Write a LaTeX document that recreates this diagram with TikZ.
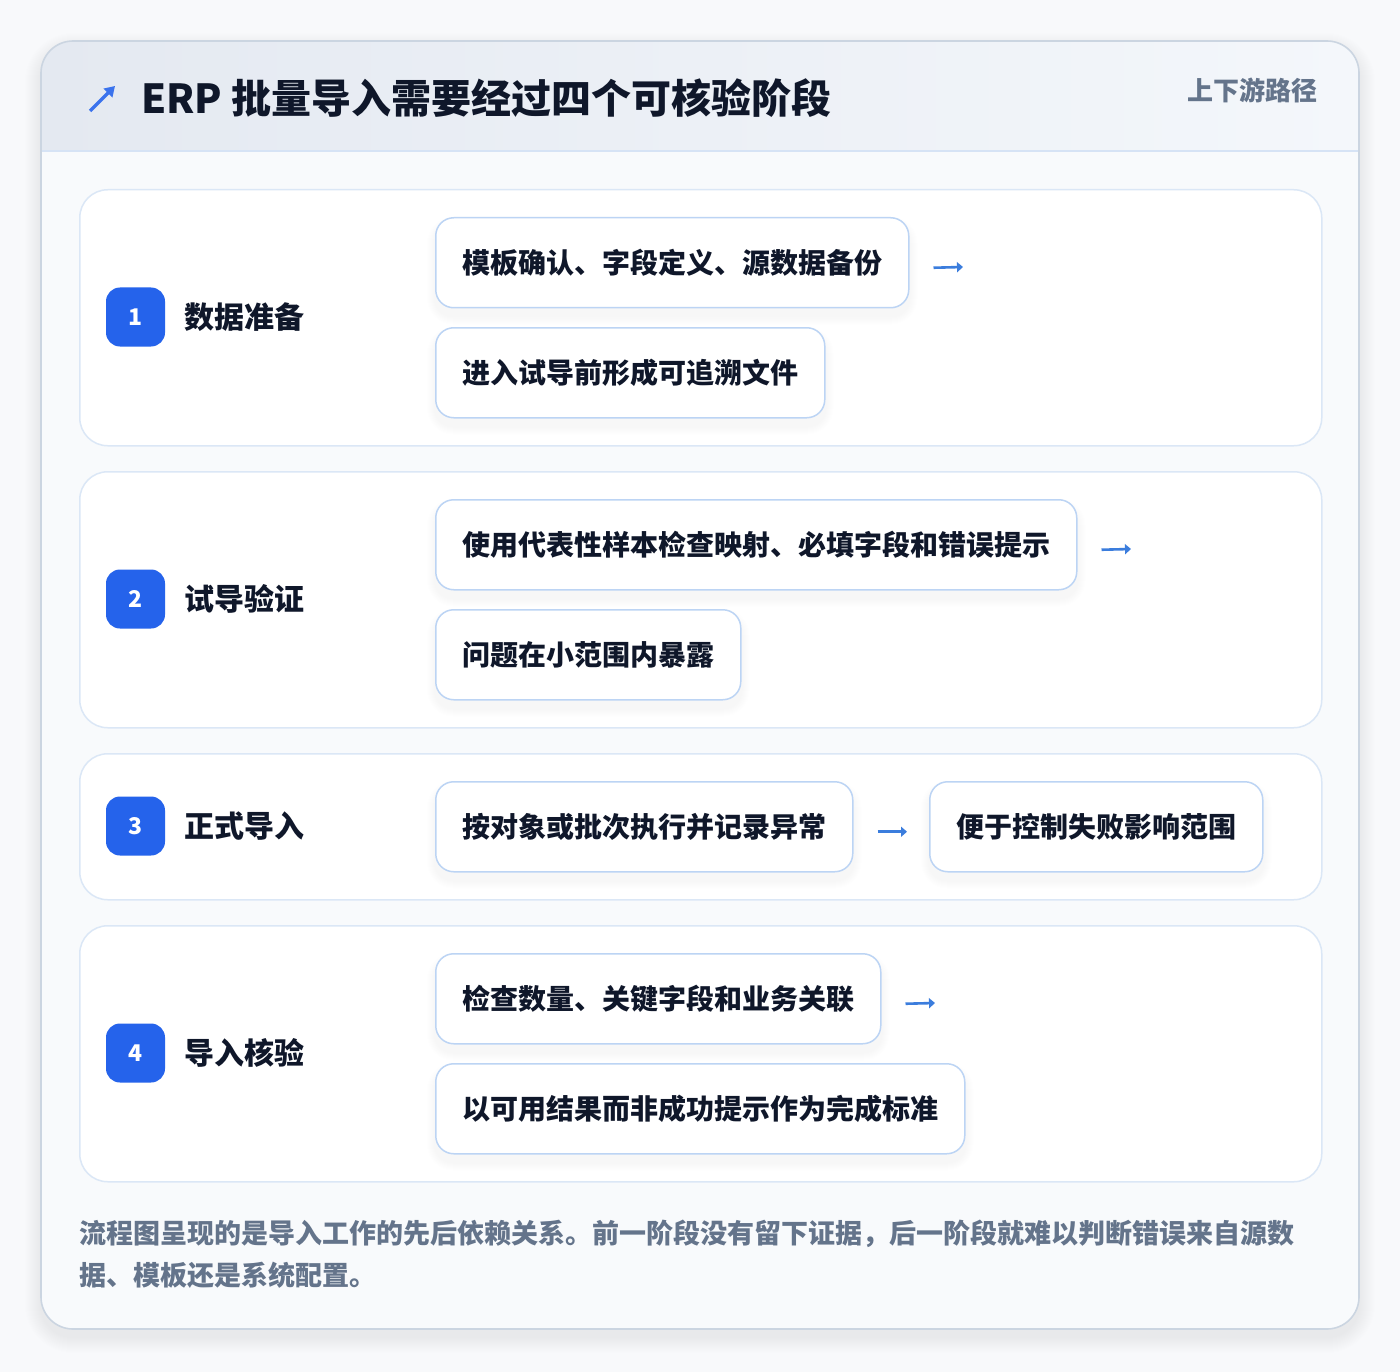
\documentclass[tikz,border=0pt]{standalone}
\usepackage{fontspec}
\setmainfont{Noto Sans CJK SC}
\usetikzlibrary{arrows.meta,calc}
\definecolor{pagebg}{HTML}{F8F9FB}
\definecolor{cardbody}{HTML}{F8FAFC}
\definecolor{hdrL}{HTML}{E4E9F1}
\definecolor{hdrR}{HTML}{F4F7FB}
\definecolor{cardborder}{HTML}{CBD5E1}
\definecolor{hdrline}{HTML}{D6E3F5}
\definecolor{panelborder}{HTML}{DBE7F6}
\definecolor{boxborder}{HTML}{BCD4F4}
\definecolor{badgeblue}{HTML}{2563EB}
\definecolor{textdark}{HTML}{0F172A}
\definecolor{muted}{HTML}{64748B}
\definecolor{arrowblue}{HTML}{3B7DDD}
\pgfdeclarelayer{bgl}
\pgfdeclarelayer{shd}
\pgfsetlayers{bgl,shd,main}
\tikzset{
  panelbox/.style={draw=panelborder, line width=1.5pt, fill=white, rounded corners=28pt, anchor=north west, minimum width=1242pt},
  stepbox/.style={draw=boxborder, line width=1.5pt, fill=white, rounded corners=18pt, anchor=north west, minimum height=90pt, inner xsep=26.5pt, text=textdark, font=\fontsize{28}{34}\selectfont\bfseries},
  badge/.style={fill=badgeblue, rounded corners=14pt, minimum size=59pt, inner sep=0pt, text=white, font=\fontsize{23}{26}\selectfont\bfseries},
  stagelabel/.style={anchor=west, text=textdark, font=\fontsize{30}{36}\selectfont\bfseries, inner sep=0pt},
  flowarrow/.style={draw=arrowblue, line width=2.6pt, -{Triangle[length=6pt,width=10pt]}}
}
\begin{document}
\begin{tikzpicture}[x=1pt,y=-1pt]
\useasboundingbox (0,0) rectangle (1400,1372);
\begin{pgfonlayer}{bgl}
\fill[pagebg] (0,0) rectangle (1400,1372);
\foreach \k in {1,...,16}{
  \fill[black, opacity=0.005, rounded corners={32pt+\k pt}] ({41-\k},{41-\k+8}) rectangle ({1359+\k},{1329+\k+8});
}
\path[fill=cardbody] (41,41) [rounded corners=32pt] rectangle (1359,1329);
\begin{scope}
  \clip (41,41) [rounded corners=32pt] rectangle (1359,1329);
  \shade[left color=hdrL, right color=hdrR] (41,41) rectangle (1359,151);
  \draw[hdrline, line width=1.5pt] (41,151) -- (1359,151);
\end{scope}
\draw[cardborder, line width=1.6pt, rounded corners=32pt] (41,41) rectangle (1359,1329);
\node[panelbox, minimum height=256pt] (p1) at (79,189) {};
\node[panelbox, minimum height=256pt] (p2) at (79,471) {};
\node[panelbox, minimum height=146pt] (p3) at (79,753) {};
\node[panelbox, minimum height=256pt] (p4) at (79,925) {};
\end{pgfonlayer}

% header
\coordinate (ha) at (90,111);
\coordinate (hb) at (115,86);
\draw[draw=badgeblue!90!white, line width=3.5pt, -{Triangle[length=10pt,width=12pt]}] (ha) -- (hb);
\node[anchor=base west, inner sep=0pt, text=textdark, font=\fontsize{40}{46}\selectfont\bfseries] (title) at (141,114) {ERP 批量导入需要经过四个可核验阶段};
\node[anchor=east, inner sep=0pt, text=muted, font=\fontsize{26}{30}\selectfont\bfseries] (tag) at (1318,90) {上下游路径};

% stage 1
\node[badge] (n1) at (135.5,317) {1};
\node[stagelabel] (l1) at (184,317) {数据准备};
\node[stepbox] (b1a) at (435,217) {模板确认、字段定义、源数据备份};
\node[stepbox] (b1b) at (435,327) {进入试导前形成可追溯文件};
\coordinate (t1) at (963,267);
\draw[flowarrow] ($(b1a.east)+(24,5)$) -- (t1);

% stage 2
\node[badge] (n2) at (135.5,599) {2};
\node[stagelabel] (l2) at (184,599) {试导验证};
\node[stepbox] (b2a) at (435,499) {使用代表性样本检查映射、必填字段和错误提示};
\node[stepbox] (b2b) at (435,609) {问题在小范围内暴露};
\coordinate (t2) at (1131,549);
\draw[flowarrow] ($(b2a.east)+(24,5)$) -- (t2);

% stage 3
\node[badge] (n3) at (135.5,826) {3};
\node[stagelabel] (l3) at (184,826) {正式导入};
\node[stepbox] (b3a) at (435,781) {按对象或批次执行并记录异常};
\node[stepbox] (b3b) at (929,781) {便于控制失败影响范围};
\draw[flowarrow, shorten <=24pt, shorten >=22pt] ($(b3a.east)+(0,5)$) -- ($(b3b.west)+(0,5)$);

% stage 4
\node[badge] (n4) at (135.5,1053) {4};
\node[stagelabel] (l4) at (184,1053) {导入核验};
\node[stepbox] (b4a) at (435,953) {检查数量、关键字段和业务关联};
\node[stepbox] (b4b) at (435,1063) {以可用结果而非成功提示作为完成标准};
\coordinate (t4) at (935,1003);
\draw[flowarrow] ($(b4a.east)+(24,5)$) -- (t4);

% box shadows
\begin{pgfonlayer}{shd}
\foreach \n in {b1a,b1b,b2a,b2b,b3a,b3b,b4a,b4b}{
  \foreach \k in {1,...,8}{
    \fill[black, opacity=0.005, rounded corners={18pt+\k pt}] ($(\n.north west)+(-\k,{8-\k})$) rectangle ($(\n.south east)+(\k,{8+\k})$);
  }
}
\end{pgfonlayer}

% footer
\node[anchor=west, align=left, inner sep=0pt, text=muted, font=\fontsize{27}{42}\selectfont\bfseries] (foot) at (79,1254) {流程图呈现的是导入工作的先后依赖关系。前一阶段没有留下证据，后一阶段就难以判断错误来自源数\\据、模板还是系统配置。};
\end{tikzpicture}
\end{document}
